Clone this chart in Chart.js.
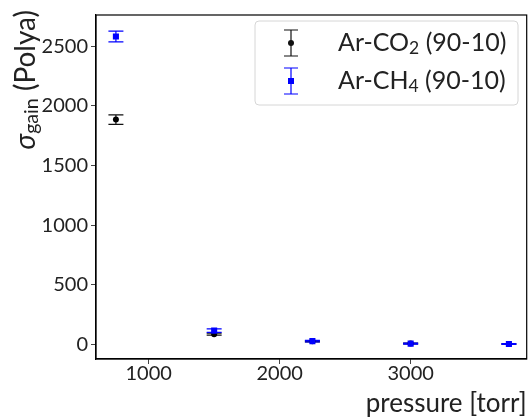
<!DOCTYPE html>
<html>
<head>
<meta charset="utf-8">
<script src="https://cdn.jsdelivr.net/npm/chart.js@4"></script>
<style>
  body { margin: 0; background: #fff; }
  #wrap { width: 531px; height: 417px; }
</style>
</head>
<body>
<div id="wrap"><canvas id="sigmaChart"></canvas></div>
<script>
// pressure points [torr]
const pressures = [750, 1500, 2250, 3000, 3750];

// sigma of the Polya gain fit, with errors
const co2Sigma = [1885, 85, 25, 7, 3];
const co2Err = [40, 8, 5, 3, 2];
const ch4Sigma = [2582, 115, 27, 6, 3];
const ch4Err = [45, 15, 6, 4, 3];

const xTicks = [1000, 2000, 3000];
const yTicks = [0, 500, 1000, 1500, 2000, 2500];

const FONT = 'Lato, "DejaVu Sans", sans-serif';

function toPoints(xs, ys) {
    return xs.map((x, i) => ({ x: x, y: ys[i] }));
}

// error bars drawn under the markers
const errorBarPlugin = {
    id: 'errorBars',
    beforeDatasetsDraw(chart) {
        const ctx = chart.ctx;
        const xs = chart.scales.x;
        const ys = chart.scales.y;
        const sets = [
            { vals: co2Sigma, errs: co2Err, color: '#111' },
            { vals: ch4Sigma, errs: ch4Err, color: '#0000ff' }
        ];
        ctx.save();
        ctx.lineWidth = 1.2;
        sets.forEach(s => {
            ctx.strokeStyle = s.color;
            pressures.forEach((p, i) => {
                const px = xs.getPixelForValue(p);
                const top = ys.getPixelForValue(s.vals[i] + s.errs[i]);
                const bot = ys.getPixelForValue(s.vals[i] - s.errs[i]);
                ctx.beginPath();
                ctx.moveTo(px, top); ctx.lineTo(px, bot);
                ctx.moveTo(px - 7.5, top); ctx.lineTo(px + 7.5, top);
                ctx.moveTo(px - 7.5, bot); ctx.lineTo(px + 7.5, bot);
                ctx.stroke();
            });
        });
        ctx.restore();
    }
};

// text with subscripts: parts are [text, isSub, italic]
function drawSub(ctx, parts, x, y, size) {
    let cx = x;
    parts.forEach(p => {
        const fs = p[1] ? size * 0.7 : size;
        ctx.font = (p[2] ? 'italic ' : '') + fs + 'px ' + FONT;
        ctx.fillText(p[0], cx, y + (p[1] ? size * 0.22 : 0));
        cx += ctx.measureText(p[0]).width;
    });
    return cx - x;
}

function measureSub(ctx, parts, size) {
    let w = 0;
    parts.forEach(p => {
        const fs = p[1] ? size * 0.7 : size;
        ctx.font = (p[2] ? 'italic ' : '') + fs + 'px ' + FONT;
        w += ctx.measureText(p[0]).width;
    });
    return w;
}

// frame, axis titles and legend
const decorPlugin = {
    id: 'decor',
    afterDraw(chart) {
        const ctx = chart.ctx;
        const a = chart.chartArea;
        ctx.save();

        // full box
        ctx.strokeStyle = '#000';
        ctx.lineWidth = 1.2;
        ctx.strokeRect(a.left, a.top, a.right - a.left, a.bottom - a.top);

        // x title, right aligned
        ctx.fillStyle = '#222';
        ctx.textBaseline = 'middle';
        ctx.textAlign = 'right';
        ctx.font = '26px ' + FONT;
        ctx.fillText('pressure [torr]', a.right, 404);

        // y title, top aligned
        const yParts = [['σ', false, true], ['gain', true, false], [' (Polya)', false, false]];
        ctx.textAlign = 'left';
        const yw = measureSub(ctx, yParts, 28);
        ctx.save();
        ctx.translate(26, 10 + yw);
        ctx.rotate(-Math.PI / 2);
        drawSub(ctx, yParts, 0, 0, 28);
        ctx.restore();

        // legend box
        const lx = 255, ly = 21, lw = 263, lh = 84;
        ctx.fillStyle = 'rgba(255,255,255,0.8)';
        ctx.strokeStyle = '#d6d6d6';
        ctx.lineWidth = 1;
        ctx.beginPath();
        ctx.roundRect(lx, ly, lw, lh, 4);
        ctx.fill();
        ctx.stroke();

        const entries = [
            { y: 43, color: '#111', square: false, parts: [['Ar-CO', false], ['2', true], [' (90-10)', false]] },
            { y: 81, color: '#0000ff', square: true, parts: [['Ar-CH', false], ['4', true], [' (90-10)', false]] }
        ];
        entries.forEach(e => {
            const mx = 291;
            ctx.strokeStyle = e.color;
            ctx.fillStyle = e.color;
            ctx.lineWidth = 1.2;
            ctx.beginPath();
            ctx.moveTo(mx, e.y - 13); ctx.lineTo(mx, e.y + 13);
            ctx.moveTo(mx - 7, e.y - 13); ctx.lineTo(mx + 7, e.y - 13);
            ctx.moveTo(mx - 7, e.y + 13); ctx.lineTo(mx + 7, e.y + 13);
            ctx.stroke();
            ctx.beginPath();
            if (e.square) ctx.rect(mx - 3, e.y - 3, 6, 6);
            else ctx.arc(mx, e.y, 3, 0, Math.PI * 2);
            ctx.fill();
            ctx.fillStyle = '#222';
            drawSub(ctx, e.parts, 338, e.y, 25);
        });

        ctx.restore();
    }
};

const config = {
    type: 'scatter',
    data: {
        datasets: [{
            label: 'Ar-CO2 (90-10)',
            data: toPoints(pressures, co2Sigma),
            pointStyle: 'circle',
            pointRadius: 3,
            backgroundColor: '#000',
            borderColor: '#000',
            borderWidth: 0,
            order: 1
        }, {
            label: 'Ar-CH4 (90-10)',
            data: toPoints(pressures, ch4Sigma),
            pointStyle: 'rect',
            pointRadius: 4.3,
            backgroundColor: '#0000ff',
            borderColor: '#0000ff',
            borderWidth: 0,
            order: 0
        }]
    },
    options: {
        responsive: true,
        maintainAspectRatio: false,
        animation: false,
        layout: { padding: { left: 0, right: 1, top: 7, bottom: 0 } },
        plugins: {
            legend: { display: false },
            tooltip: { enabled: false }
        },
        scales: {
            x: {
                type: 'linear',
                min: 598,
                max: 3886,
                afterBuildTicks: scale => { scale.ticks = xTicks.map(v => ({ value: v })); },
                afterFit: scale => { scale.height = 58; },
                grid: { drawOnChartArea: false, tickLength: 5, color: '#444' },
                border: { display: true, color: '#000', width: 1.2 },
                ticks: {
                    color: '#222', padding: -2, font: { family: FONT, size: 20 },
                    callback: v => String(v)
                }
            },
            y: {
                type: 'linear',
                min: -123,
                max: 2762,
                afterBuildTicks: scale => { scale.ticks = yTicks.map(v => ({ value: v })); },
                afterFit: scale => { scale.width = 96; },
                grid: { drawOnChartArea: false, tickLength: 5, color: '#444' },
                border: { display: true, color: '#000', width: 1.2 },
                ticks: {
                    color: '#222', padding: 3, font: { family: FONT, size: 20 },
                    callback: v => String(v)
                }
            }
        }
    },
    plugins: [errorBarPlugin, decorPlugin]
};

new Chart(document.getElementById('sigmaChart'), config);
</script>
</body>
</html>
